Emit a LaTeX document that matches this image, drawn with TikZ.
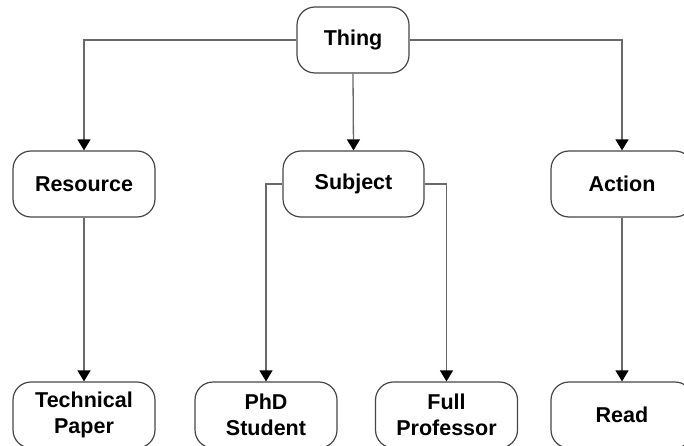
\documentclass[tikz,border=0pt]{standalone}
\usepackage{fontspec}
\setmainfont{Liberation Sans}
\usetikzlibrary{arrows.meta}
\definecolor{linegray}{RGB}{105,105,105}
\definecolor{boxgray}{RGB}{70,70,70}
\tikzset{
  box/.style={draw=boxgray, line width=1.2pt, rounded corners=18pt, rectangle,
    minimum width=142pt, minimum height=66pt, inner sep=0pt, align=center,
    font=\fontsize{21.5pt}{26pt}\selectfont\bfseries, fill=white},
  conn/.style={draw=linegray, line width=1.3pt,
    -{Triangle[width=13pt,length=11pt,fill=black,color=black]}},
  plain/.style={draw=linegray, line width=1.3pt}
}
\begin{document}
\begin{tikzpicture}[x=1pt,y=-1pt]
\useasboundingbox (0,0) rectangle (684,446);
\node[box, minimum width=112pt] (thing) at (353,40) {Thing};
\node[box] (res) at (84,184) {Resource};
\node[box, minimum width=141pt] (subj) at (353.5,184) {Subject};
\node[box] (act) at (622,184) {Action};
\node[box] (tech) at (84,415) {Technical\\Paper};
\node[box] (phd) at (266,415) {PhD\\Student};
\node[box] (full) at (446.5,415) {Full\\Professor};
\node[box] (read) at (622,415) {Read};
\draw[conn] (thing.west) -| (res.north);
\draw[conn] (thing.south) -- (subj.north);
\draw[conn] (thing.east) -| (act.north);
\draw[conn] (res.south) -- (tech.north);
\draw[conn] (subj.west) -| (phd.north);
\draw[conn] (subj.east) -| (full.north);
\draw[conn] (act.south) -- (read.north);
\end{tikzpicture}
\end{document}
